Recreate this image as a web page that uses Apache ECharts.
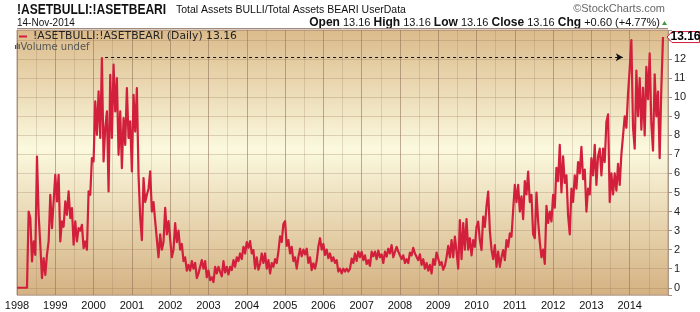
<!DOCTYPE html>
<html><head><meta charset="utf-8">
<script src="https://cdn.jsdelivr.net/npm/echarts@6/dist/echarts.min.js"></script>
<style>html,body{margin:0;padding:0;background:#fff}#c{width:700px;height:312px}</style>
</head><body><div id="c"></div>
<script>
// Ratio values, ~23 readings per year (alternating high/low of the daily band)
const v1998 = [0,0,0,0,0,0,0,4.0,3.66,1.38,2.43,1.73,6.89,3.83,2.26,0.51,1.56,0.68,1.73,2.43,4.88,3.13,4.53];
const v1999 = [5.93,4.53,5.93,2.43,3.48,3.2,4.53,3.83,5.06,3.66,4.18,2.26,3.48,2.43,3.13,3.0,3.3,2.08,2.43,2.0,5.06,4.88,6.81];
const v2000 = [6.63,9.78,8.03,10.31,7.86,12.06,6.63,8.38,9.26,5.06,11.18,7.86,11.71,9.26,11.0,6.98,9.26,6.28,8.91,7.5,10.48,7.86,8.73];
const v2001 = [6.11,10.13,8.2,10.48,5.9,3.7,2.5,5.76,4.5,4.88,5.2,6.11,4.0,4.5,3.5,3.5,1.6,2.8,2.0,2.4,4.2,2.8,3.5];
const v2002 = [3.55,1.6,2.0,3.4,2.4,3.0,2.0,2.3,1.4,1.6,0.9,1.2,0.9,1.4,1.0,1.3,0.5,0.75,0.7,1.45,1.0,1.4,0.55];
const v2003 = [0.9,0.4,0.55,0.3,1.1,0.75,1.1,0.84,0.6,1.4,0.8,1.1,0.7,1.1,0.93,1.45,1.1,1.6,1.4,1.8,1.5,2.15,1.8];
const v2004 = [2.4,2.1,2.45,1.8,1.98,1.0,1.6,0.95,1.25,1.8,1.3,1.8,1.0,1.45,0.75,1.3,1.1,1.5,1.3,1.9,2.7,2.4,3.35];
const v2005 = [3.5,2.2,2.5,1.8,2.15,1.4,1.6,1.0,1.6,2.05,1.65,2.0,1.75,2.05,1.3,1.6,0.93,1.28,1.0,1.4,2.15,2.6,2.0];
const v2006 = [2.3,1.72,2.0,1.55,1.8,1.4,1.6,1.3,1.45,0.85,1.0,0.75,1.0,0.85,1.0,0.85,1.0,1.53,1.3,1.8,1.4,1.9,1.6];
const v2007 = [1.89,1.45,1.7,1.25,1.45,1.15,1.9,1.65,1.9,1.5,1.95,1.6,1.75,1.3,1.9,1.63,2.05,1.8,2.24,1.6,1.7,2.15,1.9];
const v2008 = [2.0,1.5,1.7,1.3,1.5,1.3,1.85,1.7,2.1,1.8,1.9,1.45,1.75,1.2,1.5,1.0,1.3,0.9,1.2,0.75,1.5,1.2,1.85];
const v2009 = [1.9,1.2,1.35,0.95,1.15,1.6,2.2,1.6,2.5,1.6,2.68,1.9,1.0,3.55,1.5,3.4,2.0,3.6,2.0,2.6,1.7,2.5,2.15];
const v2010 = [3.2,3.47,2.5,1.98,3.73,3.2,4.3,5.05,3.0,2.0,1.5,2.24,1.1,1.9,1.1,1.6,1.98,1.45,2.5,2.15,2.85,2.68,4.08];
const v2011 = [5.4,4.5,5.4,4.0,4.8,3.6,5.6,4.9,6.1,4.5,4.88,2.8,2.6,5.0,3.5,2.4,1.6,2.0,1.25,4.3,3.4,4.0,3.48];
const v2012 = [4.88,4.2,6.3,5.6,7.5,5.0,6.9,5.5,5.9,3.8,2.8,5.2,4.5,5.9,5.2,6.6,6.0,7.4,5.7,6.2,4.0,5.2,4.9];
const v2013 = [6.8,5.9,7.5,5.4,6.9,7.3,5.9,7.3,6.6,8.7,9.1,4.5,6.0,4.9,6.0,5.1,6.5,5.4,7.0,6.9,9.0,8.4,10.2];
const v2014 = [11.5,13.0,8.4,7.3,11.4,9.0,11.0,8.3,10.5,8.0,11.6,9.9,12.3,8.6,7.2,11.2,9.0,10.3,6.8,10.5,13.16];

const years = [1998,1999,2000,2001,2002,2003,2004,2005,2006,2007,2008,2009,2010,2011,2012,2013,2014];
const yearValues = [v1998,v1999,v2000,v2001,v2002,v2003,v2004,v2005,v2006,v2007,v2008,v2009,v2010,v2011,v2012,v2013,v2014];
const readingsPerYear = 23;

const peakLevel = 12.1;           // dashed reference level
const peakFrom = 2000.3, peakTo = 2013.82;
const lastValue = 13.16;

const data = [];
years.forEach((y, k) => yearValues[k].forEach((v, i) => data.push([y + i / readingsPerYear, v])));
const last = data[data.length - 1];

const RED = '#d21f3b';
const chart = echarts.init(document.getElementById('c'), null, {renderer: 'canvas'});
const option = {
  animation: false,
  backgroundColor: '#ffffff',
  grid: {
    left: 17, right: 32, top: 30, bottom: 17, show: true,
    borderColor: '#b49c8c', borderWidth: 1,
    backgroundColor: {type: 'linear', x: 0, y: 0, x2: 0, y2: 1, colorStops: [
      {offset: 0, color: '#dbbb8b'},
      {offset: 0.45, color: '#fbf9de'},
      {offset: 1, color: '#d4b182'}
    ]}
  },
  xAxis: {
    type: 'value', min: 1998, max: 2015, interval: 0.5,
    axisLine: {show: false}, axisTick: {show: false},
    axisLabel: {
      color: '#111', fontSize: 11, fontFamily: 'Liberation Sans, Arial', margin: 5,
      formatter: v => (Number.isInteger(v) && v < 2015) ? String(v) : ''
    },
    splitLine: {show: true, lineStyle: {color: ['rgba(140,110,85,0.55)', 'rgba(140,110,85,0.22)'], width: 1}}
  },
  yAxis: {
    type: 'value', position: 'right', min: -0.38, max: 13.53, minInterval: 1, maxInterval: 1, splitNumber: 14,
    axisLine: {show: false},
    axisTick: {show: true, length: 4, lineStyle: {color: '#a88e80'}},
    axisLabel: {
      color: '#222', fontSize: 11, fontFamily: 'Liberation Sans, Arial', margin: 6,
      formatter: v => Number.isInteger(v) ? String(v) : ''
    },
    splitLine: {show: true, lineStyle: {color: 'rgba(150,115,85,0.28)', width: 1}}
  },
  series: [{
    type: 'line', data: data, showSymbol: false, sampling: null,
    lineStyle: {color: RED, width: 2.2, join: 'round'}, clip: true,
    markLine: {
      silent: true, symbol: ['none', 'arrow'], symbolSize: [6, 7],
      lineStyle: {color: '#111', type: [3, 3], width: 1}, label: {show: false},
      data: [[{coord: [peakFrom, peakLevel]}, {coord: [peakTo, peakLevel]}]]
    }
  }]
};
chart.setOption(option);

const p = chart.convertToPixel({xAxisIndex: 0, yAxisIndex: 0}, [last[0], lastValue]);
const by = p[1];
chart.setOption({
  graphic: [
    {type: 'text', x: 17, y: 3, scaleX: 0.86, style: {text: '!ASETBULLI:!ASETBEARI', font: 'bold 14px Liberation Sans, Arial', fill: '#111'}},
    {type: 'text', x: 176, y: 5, style: {text: 'Total Assets BULLI/Total Assets BEARI UserData', font: '10.5px Liberation Sans, Arial', fill: '#111'}},
    {type: 'text', x: 17, y: 18, style: {text: '14-Nov-2014', font: '10px Liberation Sans, Arial', fill: '#111'}},
    {type: 'text', x: 665, y: 3, style: {text: '\u00a9StockCharts.com', font: '11px Liberation Sans, Arial', fill: '#666', align: 'right'}},
    {type: 'text', x: 660, y: 17, style: {
      text: '{b|Open} 13.16 {b|High} 13.16 {b|Low} 13.16 {b|Close} 13.16 {b|Chg} +0.60 (+4.77%)',
      font: '11px Liberation Sans, Arial', fill: '#111', align: 'right',
      rich: {b: {font: 'bold 12px Liberation Sans, Arial', fill: '#111'}}
    }},
    {type: 'polygon', shape: {points: [[662, 25], [664.5, 21], [667, 25]]}, style: {fill: '#3a9a3a'}},
    {type: 'line', shape: {x1: 17, y1: 28.5, x2: 668, y2: 28.5}, style: {stroke: '#a08a7c', lineWidth: 1}},
    // legend
    {type: 'line', shape: {x1: 19, y1: 36.5, x2: 27, y2: 36.5}, style: {stroke: RED, lineWidth: 2}, z: 100},
    {type: 'text', x: 33, y: 31, z: 100, style: {text: '!ASETBULLI:!ASETBEARI (Daily) 13.16', font: '10.8px DejaVu Sans', fill: '#222'}},
    {type: 'rect', shape: {x: 15, y: 45, width: 1.2, height: 4}, style: {fill: '#555'}, z: 100},
    {type: 'rect', shape: {x: 16.8, y: 43, width: 1.2, height: 6}, style: {fill: '#555'}, z: 100},
    {type: 'rect', shape: {x: 18.6, y: 44, width: 1.2, height: 5}, style: {fill: '#555'}, z: 100},
    {type: 'text', x: 20.5, y: 42.5, z: 100, style: {text: 'Volume undef', font: '10px DejaVu Sans', fill: '#555'}},
    // last value tag
    {type: 'polygon', z: 100, shape: {points: [[667, by], [672, by - 5.5], [699.5, by - 5.5], [699.5, by + 5.5], [672, by + 5.5]]},
      style: {fill: '#fff', stroke: RED, lineWidth: 1}},
    {type: 'text', z: 101, x: 685.5, y: by, style: {text: lastValue.toFixed(2), font: 'bold 12px Liberation Sans, Arial', fill: '#000', align: 'center', verticalAlign: 'middle'}}
  ]
});
</script></body></html>
